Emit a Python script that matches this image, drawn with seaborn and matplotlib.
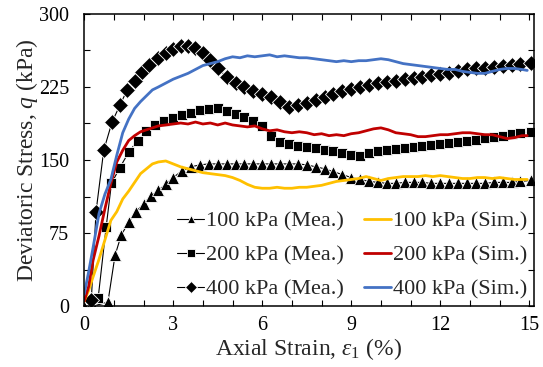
import matplotlib
matplotlib.use('Agg')
import matplotlib.pyplot as plt
from matplotlib.ticker import MultipleLocator
import seaborn as sns

# measured data (markers)
mea100_x = [0.0, 0.3, 0.8, 1.04, 1.25, 1.5, 1.75, 2.0, 2.25, 2.5, 2.75, 3.0, 3.3, 3.6, 3.9, 4.2,
            4.5, 4.8, 5.1, 5.4, 5.7, 6.0, 6.3, 6.6, 6.9, 7.2, 7.5, 7.8, 8.1, 8.4, 8.7, 9.0,
            9.3, 9.6, 9.9, 10.2, 10.5, 10.8, 11.1, 11.4, 11.7, 12.0, 12.3, 12.6, 12.9, 13.2,
            13.5, 13.8, 14.1, 14.4, 14.7, 15.05]
mea100_y = [0, 0, 4, 52, 73, 86, 97, 105, 113, 119, 125, 132, 139, 143, 145, 146,
            146, 146, 146, 146, 146, 146, 146, 146, 146, 146, 145, 143, 141, 138, 135, 132,
            130, 128, 127, 126, 126, 127, 127, 127, 126, 126, 126, 126, 126, 126,
            126, 127, 127, 127, 128, 129]

mea200_x = [0.47, 0.74, 0.92, 1.2, 1.5, 1.8, 2.1, 2.4, 2.7, 3.0, 3.3, 3.6, 3.9, 4.2, 4.5,
            4.8, 5.1, 5.4, 5.7, 6.0, 6.3, 6.6, 6.9, 7.2, 7.5, 7.8, 8.1, 8.4, 8.7, 9.0,
            9.3, 9.6, 9.9, 10.2, 10.5, 10.8, 11.1, 11.4, 11.7, 12.0, 12.3, 12.6, 12.9,
            13.2, 13.5, 13.8, 14.1, 14.4, 14.7, 15.05]
mea200_y = [8, 81, 126, 142, 158, 170, 180, 186, 190, 193, 196, 198, 201, 202, 203,
            200, 197, 194, 190, 185, 175, 169, 166, 164, 163, 162, 160, 159, 157, 155,
            154, 157, 159, 160, 161, 162, 163, 164, 165, 166, 167, 169, 170,
            171, 173, 174, 175, 177, 178, 179]

mea400_x = [0.24, 0.4, 0.66, 0.94, 1.2, 1.45, 1.7, 1.95, 2.2, 2.5, 2.75, 3.0, 3.25, 3.5,
            3.75, 4.0, 4.25, 4.5, 4.8, 5.1, 5.4, 5.7, 6.0, 6.3, 6.6, 6.9, 7.2, 7.5, 7.8,
            8.1, 8.4, 8.7, 9.0, 9.3, 9.6, 9.9, 10.2, 10.5, 10.8, 11.1, 11.4, 11.7, 12.0,
            12.3, 12.6, 12.9, 13.2, 13.5, 13.8, 14.1, 14.4, 14.7, 15.05]
mea400_y = [6, 97, 160, 189, 206, 222, 231, 240, 248, 255, 260, 264, 267, 267,
            265, 260, 253, 245, 235, 229, 225, 221, 218, 215, 210, 204, 207, 209, 212,
            215, 218, 221, 223, 225, 227, 229, 230, 231, 233, 234, 235, 237, 238,
            239, 241, 243, 244, 245, 246, 247, 248, 249, 250]

# simulated data (lines)
sim_x = [0.0, 0.15, 0.3, 0.5, 0.7, 0.9, 1.1, 1.3, 1.5, 1.7, 1.9, 2.1, 2.3, 2.5, 2.75, 3.0,
         3.25, 3.5, 3.75, 4.0, 4.25, 4.5, 4.75, 5.0, 5.25, 5.5, 5.75, 6.0, 6.25, 6.5, 6.75,
         7.0, 7.25, 7.5, 7.75, 8.0, 8.25, 8.5, 8.75, 9.0, 9.25, 9.5, 9.75, 10.0, 10.25,
         10.5, 10.75, 11.0, 11.25, 11.5, 11.75, 12.0, 12.25, 12.5, 12.75, 13.0, 13.25,
         13.5, 13.75, 14.0, 14.25, 14.5, 14.75, 14.93]
sim100_y = [5, 16, 30, 48, 68, 88, 97, 110, 118, 127, 136, 141, 146, 148, 149, 146,
            143, 141, 139, 137, 136, 135, 134, 132, 129, 125, 122, 121, 121, 122, 121,
            121, 122, 122, 123, 124, 126, 128, 129, 130, 131, 133, 131, 129, 131,
            132, 133, 133, 133, 134, 133, 134, 133, 132, 131, 131, 132,
            132, 131, 132, 131, 130, 130, 130]
sim200_y = [5, 20, 47, 72, 100, 126, 148, 160, 170, 175, 179, 181, 183, 185, 186, 187,
            188, 187, 189, 187, 188, 186, 188, 186, 185, 184, 185, 182, 180, 181, 179,
            178, 179, 178, 176, 177, 175, 176, 175, 177, 178, 180, 182, 183, 181,
            178, 177, 176, 174, 174, 175, 176, 176, 177, 178, 178, 177,
            176, 176, 174, 172, 173, 175, 175]
sim400_y = [12, 35, 60, 95, 115, 130, 155, 178, 192, 203, 210, 216, 222, 225, 229, 233,
            236, 239, 243, 247, 249, 251, 254, 256, 255, 257, 256, 257, 258, 256, 257,
            256, 255, 255, 254, 253, 252, 251, 252, 251, 252, 252, 253, 254, 253,
            251, 249, 248, 247, 246, 245, 244, 243, 243, 241, 240, 239,
            239, 241, 243, 244, 244, 243, 242]

labels_mea = ['100 kPa (Mea.)', '200 kPa (Mea.)', '400 kPa (Mea.)']
labels_sim = ['100 kPa (Sim.)', '200 kPa (Sim.)', '400 kPa (Sim.)']
sim_colors = ['#FFC000', '#C00000', '#4472C4']

sns.set_style('ticks')
plt.rcParams['font.family'] = ['Liberation Serif', 'DejaVu Serif']
plt.rcParams['mathtext.fontset'] = 'custom'
plt.rcParams['mathtext.rm'] = 'Liberation Serif'
plt.rcParams['mathtext.it'] = 'Liberation Serif:italic'
plt.rcParams['mathtext.default'] = 'it'

fig, ax = plt.subplots(figsize=(5.43, 3.67), dpi=100)
fig.subplots_adjust(left=0.155, right=0.983, top=0.962, bottom=0.166)

mea_sets = [(mea100_x, mea100_y, '^', 8.5), (mea200_x, mea200_y, 's', 7.5), (mea400_x, mea400_y, 'D', 8)]
for (xs, ys, mk, ms), lab in zip(mea_sets, labels_mea):
    sns.lineplot(x=xs, y=ys, ax=ax, sort=False, estimator=None, color='black', lw=0.8,
                 marker=mk, markersize=ms, markerfacecolor='black', markeredgecolor='white',
                 markeredgewidth=0.6, label=lab)

for ys, col, lab in zip([sim100_y, sim200_y, sim400_y], sim_colors, labels_sim):
    sns.lineplot(x=sim_x, y=ys, ax=ax, sort=False, estimator=None, color=col, lw=2.0, label=lab)

ax.set_xlim(0, 15.15)
ax.set_ylim(0, 300)
ax.xaxis.set_major_locator(MultipleLocator(3))
ax.xaxis.set_minor_locator(MultipleLocator(1))
ax.yaxis.set_major_locator(MultipleLocator(75))
ax.yaxis.set_minor_locator(MultipleLocator(37.5))
ax.tick_params(which='both', direction='in', top=True, right=True, length=4, width=0.8,
               labelsize=14.5, colors='black')
ax.tick_params(axis='x', pad=7)
ax.tick_params(axis='y', pad=11)
for sp in ax.spines.values():
    sp.set_color('black')
    sp.set_linewidth(1.1)

ax.set_xlabel(r'Axial Strain, $\varepsilon_{1}$ (%)', fontsize=17, labelpad=1)
ax.set_ylabel(r'Deviatoric Stress, $q$ (kPa)', fontsize=17, labelpad=-1)

ax.legend(ncol=2, frameon=False, fontsize=16, loc='lower right', bbox_to_anchor=(1.0, 0.0),
          handlelength=1.2, handletextpad=0.1, columnspacing=0.9, labelspacing=0.6,
          borderpad=0.15, borderaxespad=0.15, markerscale=0.75)

fig.savefig('out.png', dpi=100)
